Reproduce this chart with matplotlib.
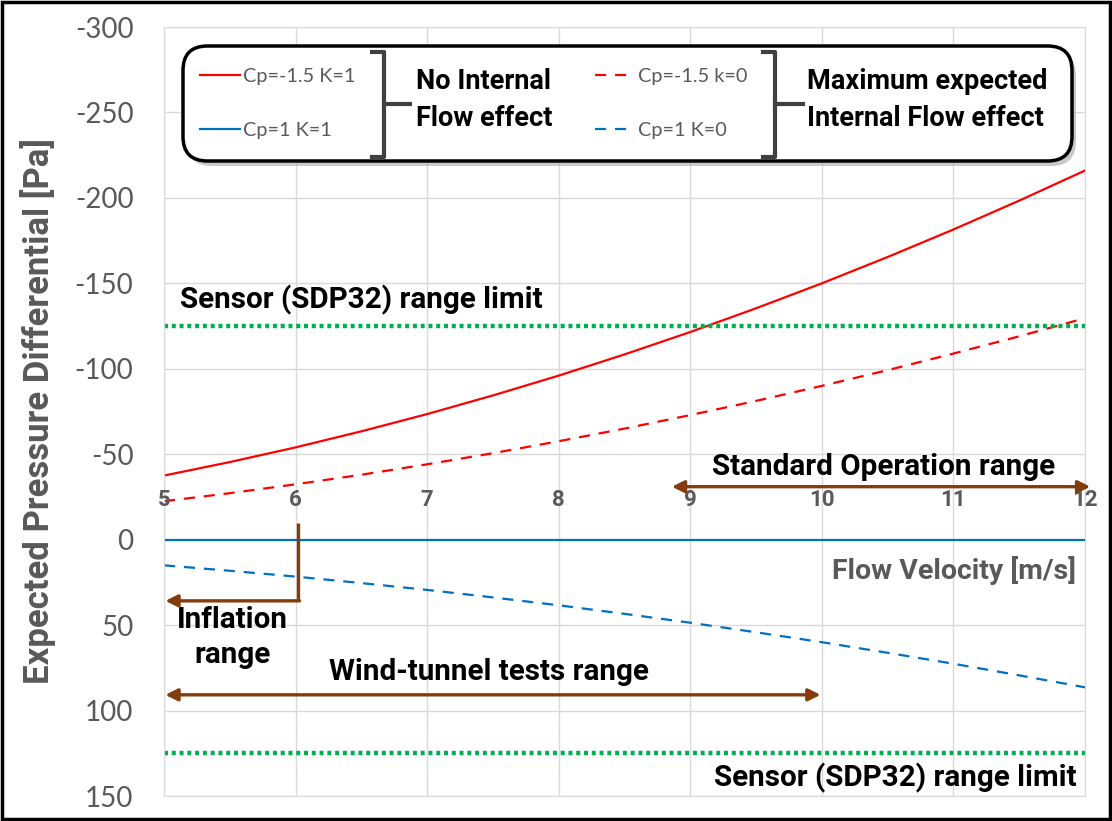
import matplotlib.pyplot as plt
from matplotlib.patches import FancyBboxPatch, Rectangle
from matplotlib.lines import Line2D

plt.rcParams['font.family'] = ['Lato', 'DejaVu Sans']
plt.rcParams['axes.unicode_minus'] = False

# flow velocity [m/s] and pressure differential [Pa] for each case
velocity = [5, 5.5, 6, 6.5, 7, 7.5, 8, 8.5, 9, 9.5, 10, 10.5, 11, 11.5, 12]
cp_m15_k1 = [-37.5, -45.4, -54.0, -63.4, -73.5, -84.4, -96.0, -108.4, -121.5,
             -135.4, -150.0, -165.4, -181.5, -198.4, -216.0]
cp_1_k1 = [0] * 15
cp_m15_k0 = [-22.5, -27.2, -32.4, -38.0, -44.1, -50.6, -57.6, -65.0, -72.9,
             -81.2, -90.0, -99.2, -108.9, -119.0, -129.6]
cp_1_k0 = [15.0, 18.2, 21.6, 25.4, 29.4, 33.8, 38.4, 43.4, 48.6, 54.2, 60.0,
           66.2, 72.6, 79.4, 86.4]

sensor_limit = 125
x_ticks = [5, 6, 7, 8, 9, 10, 11, 12]
y_ticks = [-300, -250, -200, -150, -100, -50, 0, 50, 100, 150]

# velocity ranges marked with arrows
standard_range = (8.86, 12.04)
wind_tunnel_range = (5.01, 9.99)
inflation_limit = 6.02

RED = '#FF0000'
BLUE = '#0070C0'
GREEN = '#00B050'
BROWN = '#843C0C'
GRAY = '#595959'

W, H = 1112, 821
fig = plt.figure(figsize=(W / 100, H / 100), dpi=100)
ax = fig.add_axes([164 / W, 1 - 796 / H, 921 / W, 769 / H])


def fx(px, py):
    return (px / W, 1 - py / H)


ax.plot(velocity, cp_m15_k1, color=RED, lw=1.6, label='Cp=-1.5 K=1')
ax.plot(velocity, cp_1_k1, color=BLUE, lw=1.6, label='Cp=1 K=1')
ax.plot(velocity, cp_m15_k0, color=RED, lw=1.6, ls=(0, (5, 4)), label='Cp=-1.5 k=0')
ax.plot(velocity, cp_1_k0, color=BLUE, lw=1.6, ls=(0, (5, 4)), label='Cp=1 K=0')

for lim in (-sensor_limit, sensor_limit):
    ax.plot([velocity[0], velocity[-1]], [lim, lim], color=GREEN, lw=3.2,
            dashes=(0.9, 0.85), dash_capstyle='butt', clip_on=False)

ax.set_xlim(5, 12)
ax.set_ylim(150, -300)
ax.set_xticks(x_ticks)
ax.set_yticks(y_ticks)
ax.grid(True, color='#D9D9D9', lw=1)
ax.set_axisbelow(True)
for s in ax.spines.values():
    s.set_color('#D9D9D9')

# x labels sit just above the zero line
ax.tick_params(axis='x', length=0, labeltop=False, labelbottom=False)
for xv in x_ticks:
    ax.text(xv, -23, str(xv), ha='center', va='center', fontsize=16,
            fontweight='bold', color=GRAY, family=['Roboto', 'DejaVu Sans'])
ax.tick_params(axis='y', length=0, pad=22, labelsize=20, labelcolor=GRAY)

ax.set_ylabel('Expected Pressure Differential [Pa]', fontsize=25,
              fontweight='bold', color=GRAY,
              family=['Liberation Sans Narrow', 'Roboto', 'DejaVu Sans'])
ax.yaxis.set_label_coords(-0.117, 0.5)
ax.text(11.93, 18, 'Flow Velocity [m/s]', ha='right', va='center',
        fontsize=20.5, fontweight='bold', color=GRAY,
        family=['Roboto', 'DejaVu Sans'])

# annotations
bold = dict(fontweight='bold', color='black', family=['Roboto', 'DejaVu Sans'])
ax.text(5.12, -140.5, 'Sensor (SDP32) range limit', ha='left', va='center',
        fontsize=21.3, **bold)
ax.text(11.94, 139.5, 'Sensor (SDP32) range limit', ha='right', va='center',
        fontsize=21.3, **bold)
ax.text(10.47, -42.5, 'Standard Operation range', ha='center', va='center',
        fontsize=21.3, **bold)
ax.text(5.52, 47, 'Inflation', ha='center', va='center', fontsize=21.3, **bold)
ax.text(5.52, 67.5, 'range', ha='center', va='center', fontsize=21.3, **bold)
ax.text(7.47, 77.5, 'Wind-tunnel tests range', ha='center', va='center',
        fontsize=21.3, **bold)

arrow = dict(arrowstyle='<|-|>', color=BROWN, lw=2.4, mutation_scale=18,
             shrinkA=0, shrinkB=0)
ax.annotate('', xy=(standard_range[1], -31), xytext=(standard_range[0], -31),
            arrowprops=arrow, annotation_clip=False)
ax.annotate('', xy=(wind_tunnel_range[1], 90.8), xytext=(wind_tunnel_range[0], 90.8),
            arrowprops=arrow, annotation_clip=False)
ax.plot([inflation_limit, inflation_limit], [-10, 35.8], color=BROWN, lw=2.4,
        solid_capstyle='butt')
ax.annotate('', xy=(5.01, 35.8), xytext=(inflation_limit + 0.01, 35.8),
            arrowprops=dict(arrowstyle='-|>', color=BROWN, lw=2.4,
                            mutation_scale=18, shrinkA=0, shrinkB=0))

# legend box with shadow
shadow = FancyBboxPatch(fx(187, 166), 889 / W, 115 / H,
                        boxstyle='round,pad=0,rounding_size=0.022',
                        transform=fig.transFigure, fc='#A6A6A6', ec='none',
                        alpha=0.6, zorder=5, mutation_aspect=W / H)
fig.patches.append(shadow)
box = FancyBboxPatch(fx(183, 161), 889 / W, 115 / H,
                     boxstyle='round,pad=0,rounding_size=0.022',
                     transform=fig.transFigure, fc='white', ec='black',
                     lw=2.5, zorder=6, mutation_aspect=W / H)
fig.patches.append(box)

handles, labels = ax.get_legend_handles_labels()
leg_kw = dict(frameon=False, fontsize=14.3, handlelength=2.0, handletextpad=0.15,
              labelspacing=1.85, borderpad=0, labelcolor=GRAY)
leg1 = fig.legend(handles[:2], labels[:2], loc='upper left',
                  bbox_to_anchor=fx(190, 58), **leg_kw)
leg1.set_zorder(7)
leg2 = fig.legend(handles[2:], labels[2:], loc='upper left',
                  bbox_to_anchor=fx(585, 58), **leg_kw)
leg2.set_zorder(7)


def bracket(px, tip):
    pts = [(px, 52), (px + 12, 52), (px + 12, 157), (px, 157)]
    fig.add_artist(Line2D([fx(*p)[0] for p in pts], [fx(*p)[1] for p in pts],
                          color='#404040', lw=3, zorder=8))
    fig.add_artist(Line2D([fx(px + 12, 0)[0], fx(tip, 0)[0]],
                          [fx(0, 104)[1]] * 2, color='#404040', lw=3, zorder=8))


bracket(372, 410)
bracket(763, 803)
for txt, px in (('No Internal\nFlow effect', 416),
                ('Maximum expected\nInternal Flow effect', 807)):
    fig.text(*fx(px, 100), txt, ha='left', va='center', fontsize=19.5,
             linespacing=1.45, zorder=9, **bold)

# outer border
fig.patches.append(Rectangle((0.002, 0.002), 0.996, 0.996, transform=fig.transFigure,
                             fill=False, ec='black', lw=2.5))

fig.savefig('out.png', dpi=100)
